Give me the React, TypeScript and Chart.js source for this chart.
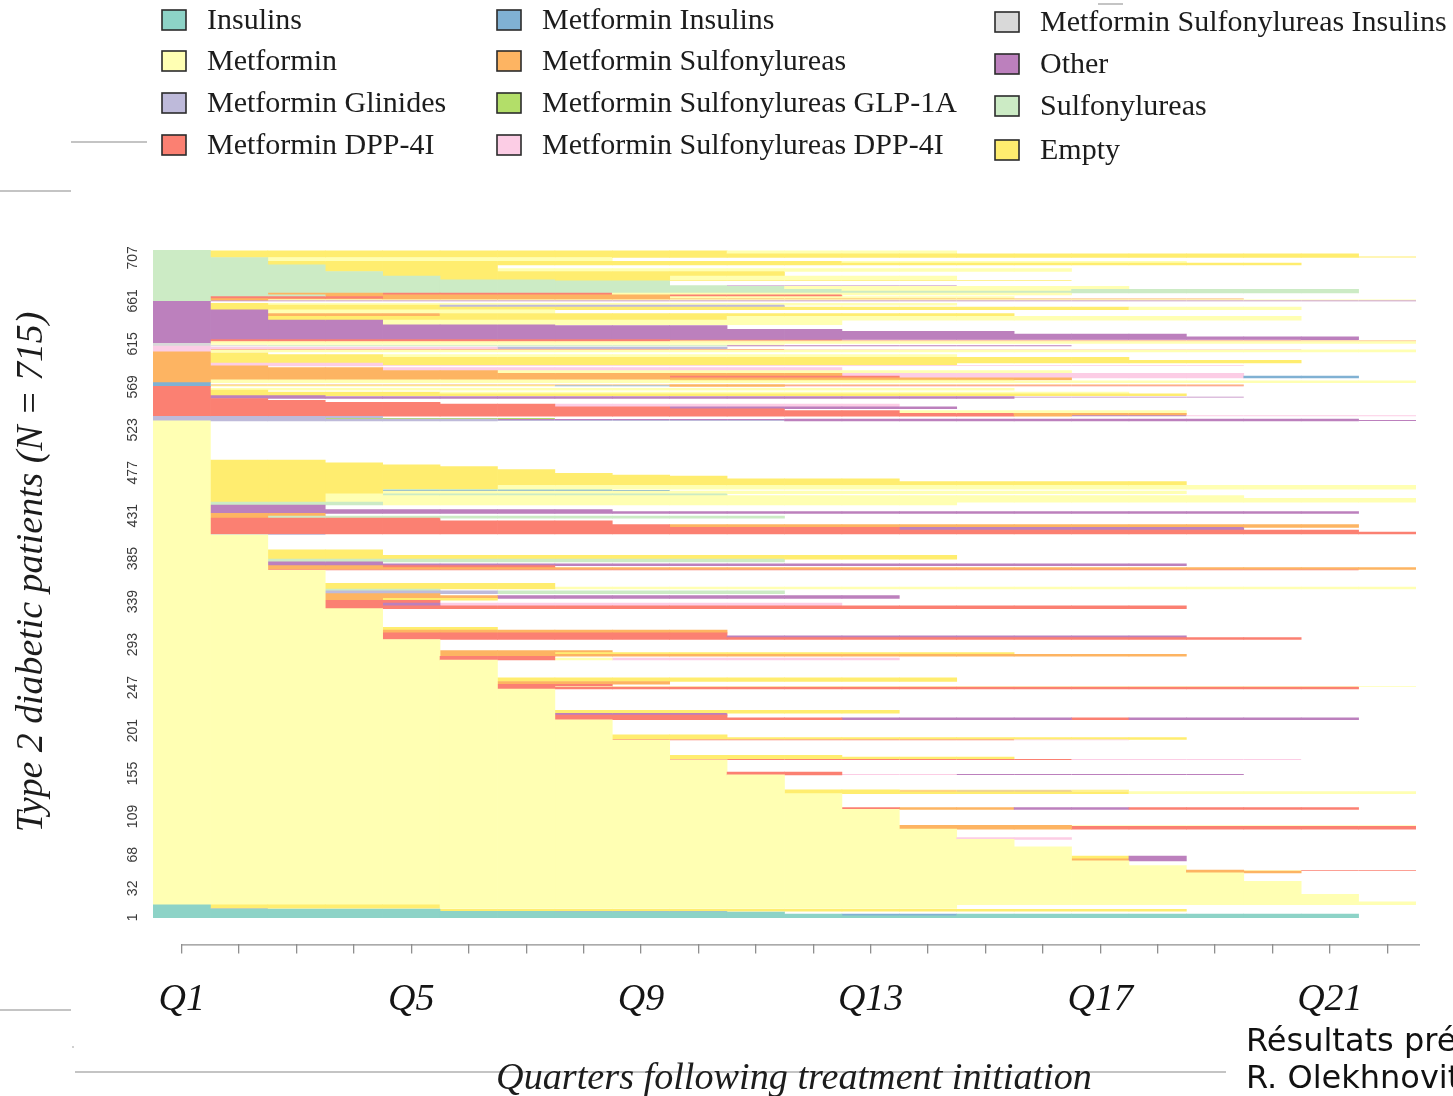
import React, { useEffect, useRef } from 'react';
import { Chart, registerables } from 'chart.js';

Chart.register(...registerables);

// ---------------- data ----------------
const QUARTERS = ['Q1','Q2','Q3','Q4','Q5','Q6','Q7','Q8','Q9','Q10','Q11','Q12','Q13','Q14','Q15','Q16','Q17','Q18','Q19','Q20','Q21','Q22'];
const X_TICK_LABELS = ['Q1','Q5','Q9','Q13','Q17','Q21'];
const Y_TICKS = [1, 32, 68, 109, 155, 201, 247, 293, 339, 385, 431, 477, 523, 569, 615, 661, 707];
const N_PATIENTS = 715;

const STATE_CODES = ['I','M','G','D','N','S','L','P','X','O','U','E'];
const STATE_LABELS = [
  'Insulins', 'Metformin', 'Metformin Glinides', 'Metformin DPP-4I',
  'Metformin Insulins', 'Metformin Sulfonylureas', 'Metformin Sulfonylureas GLP-1A', 'Metformin Sulfonylureas DPP-4I',
  'Metformin Sulfonylureas Insulins', 'Other', 'Sulfonylureas', 'Empty',
];
const STATE_COLORS = ['#8DD3C7','#FFFFB3','#BEBADA','#FB8072','#80B1D3','#FDB462','#B3DE69','#FCCDE5','#D9D9D9','#BC80BD','#CCEBC5','#FFED6F'];

// Patient groups, bottom to top: [number of patients, state sequence (run-length: state code + number of quarters)]
const START_INSULINS: [number, string][] = [
  [2, 'I21'], [2, 'I12 N2 I7'], [2, 'I11'], [1, 'I7 N3'], [2, 'I5 E13'], [1, 'I1 N1 U3'], [4, 'I1 E4 M9'],
];
const START_METFORMIN: [number, string][] = [
  [3, 'M22'], [8, 'M21'], [14, 'M20'], [9, 'M19'],
  [2, 'M18 S2'], [1, 'M18 S1 M1 D2'], [5, 'M18'],
  [5, 'M17'],
  [2, 'M16 S1 O1'], [3, 'M16 E1 O1'], [10, 'M16'],
  [8, 'M15'],
  [2, 'M14 P2'], [9, 'M14'],
  [3, 'M13 S3 D6'], [1, 'M13 S3 M6'], [17, 'M13'],
  [2, 'M12 D1 S2 O2 D4'], [15, 'M12'],
  [2, 'M11 E6 M5'], [1, 'M11 E2 D1 O2'], [1, 'M11 E6'], [16, 'M11'],
  [1, 'M10 D2 P2 O5'], [2, 'M10 D2'], [13, 'M10'],
  [1, 'M9 D7 P4'], [2, 'M9 E6'], [2, 'M9 E3'], [16, 'M9'],
  [1, 'M8 D7 P2'], [2, 'M8 E10'], [3, 'M8 E2'], [16, 'M8'],
  [2, 'M7 D5 O4 D1 O4'], [3, 'M7 D3'], [2, 'M7 O3'], [3, 'M7 E6'], [23, 'M7'],
  [2, 'M6 D15'], [1, 'M6 D1 M15'], [2, 'M6 D2'], [3, 'M6 S3'], [4, 'M6 E8'], [19, 'M6'],
  [2, 'M5 D2 M1 P5'], [2, 'M5 D2'], [2, 'M5 S13'], [2, 'M5 S2 E8'], [2, 'M5 S3'], [12, 'M5'],
  [2, 'M4 D16'], [2, 'M4 D6 O8'], [3, 'M4 D6'], [3, 'M4 S6'], [3, 'M4 E2'], [20, 'M4'],
  [3, 'M3 D15'], [3, 'M3 D1 O1 P7'], [3, 'M3 D2'], [2, 'M3 S1 E2'], [3, 'M3 S3 O7'], [2, 'M3 S2'],
  [3, 'M3 G3 U5'], [2, 'M3 U2'], [2, 'M3 E4 M15'], [4, 'M3 E4'], [14, 'M3'],
  [1, 'M2 D19'], [2, 'M2 S20'], [2, 'M2 S2 D3'], [2, 'M2 O16'], [2, 'M2 O2'], [3, 'M2 U9'],
  [4, 'M2 E12'], [6, 'M2 E2'], [16, 'M2'],
  [1, 'M1 G2'],
  [2, 'M1 D21'], [2, 'M1 D20'], [3, 'M1 D12 O6'], [3, 'M1 D8 S12'], [4, 'M1 D7'], [3, 'M1 D4'],
  [2, 'M1 S1 U9'], [3, 'M1 S2'],
  [2, 'M1 O20'], [2, 'M1 O7'], [5, 'M1 O2'],
  [3, 'M1 U3 M10'],
  [4, 'M1 E2 M19'], [3, 'M1 E2 M16'], [2, 'M1 E2 M1 U6'], [3, 'M1 E3 M14'], [1, 'M1 E3 N5'], [1, 'M1 E3 U4'],
  [4, 'M1 E5 M16'], [4, 'M1 E17'], [3, 'M1 E12'], [3, 'M1 E9'], [1, 'M1 E8'], [2, 'M1 E7'], [4, 'M1 E6'],
  [3, 'M1 E5'], [2, 'M1 E4'], [2, 'M1 E3'], [3, 'M1 E2'],
  [42, 'M1'],
];
const START_GLINIDES: [number, string][] = [
  [1, 'G11 O11'], [1, 'G6 O15'], [1, 'G3 L4'], [2, 'G4'],
];
const START_DPP4: [number, string][] = [
  [1, 'D15 S1 O2 P4'], [2, 'D15 S3'], [3, 'D13 M5'], [2, 'D11'], [2, 'D9 O5'], [3, 'D7 P6'], [2, 'D5'], [2, 'D3'], [2, 'D2'],
  [1, 'D1 O14'], [1, 'D1 O18'], [1, 'D1 O2'],
  [2, 'D1 E17'], [2, 'D1 E4 M12'], [2, 'D1 E1'],
  [2, 'D1 M14'], [2, 'D1'],
];
const START_MET_INSULINS: [number, string][] = [
  [1, 'N1 E6 N2 S2 D8'], [1, 'N1 S18'], [2, 'N1'],
];
const START_MET_SULF: [number, string][] = [
  [2, 'S1 M21'], [1, 'S1 M8 E6'],
  [2, 'S16'], [2, 'S9 D4 P6 N2'], [3, 'S12 P7'], [3, 'S6 M10'], [3, 'S4 P8'], [2, 'S2'],
  [1, 'S1 P18'], [2, 'S1 P3 E10'],
  [3, 'S1 E19'], [3, 'S1 E16'], [3, 'S1 E3 M10'], [2, 'S1 E1'],
  [1, 'S1'],
];
const START_MET_SULF_DPP4: [number, string][] = [
  [2, 'P1 M21'], [1, 'P1 D10 P9'], [2, 'P6 G4'], [1, 'P1'],
];
const START_MET_SULF_INS: [number, string][] = [
  [1, 'X2 U8 O6'], [1, 'X1 M10'], [1, 'X1'],
];
const START_OTHER: [number, string][] = [
  [2, 'O1 M21'], [1, 'O1 D8 S13'], [1, 'O1 D11 P8'],
  [3, 'O21'], [3, 'O18'], [3, 'O15'], [2, 'O12'], [4, 'O10'], [1, 'O7'], [5, 'O4 M8'], [4, 'O2 E8 M10'], [3, 'O2 S3 E10'], [4, 'O2 M5'],
  [3, 'O1 E16 M3'], [2, 'O1 E4 G6'], [2, 'O1 E1 M12'],
  [2, 'O1'],
];
const START_SULF: [number, string][] = [
  [1, 'U1 O21'], [1, 'U1 S1 M20'], [1, 'U1 S18'], [2, 'U1 D3 S5 M6'], [2, 'U3 S6 D3'], [2, 'U2 S2 D4 M8'],
  [2, 'U21'], [2, 'U12 M4 U5'], [3, 'U11 M6'], [1, 'U10 O4'], [5, 'U9'], [1, 'U7 E9'], [4, 'U5 E4 M5'], [5, 'U4 E7'],
  [3, 'U3 E3 M10'], [4, 'U3 E3'], [2, 'U2 E18'], [2, 'U2 E10 M6'], [4, 'U2 M6'],
  [1, 'U1 E21'], [3, 'U1 E20'], [3, 'U1 E9 M4'],
  [1, 'U1'],
];

// ---------------- build bars ----------------
const ALL_GROUPS = [
  ...START_INSULINS, ...START_METFORMIN, ...START_GLINIDES, ...START_DPP4, ...START_MET_INSULINS,
  ...START_MET_SULF, ...START_MET_SULF_DPP4, ...START_MET_SULF_INS, ...START_OTHER, ...START_SULF,
];

function decodeRuns(rle: string): string {
  return rle.trim().split(/\s+/).map((tok) => tok[0].repeat(parseInt(tok.slice(1), 10))).join('');
}

const COLOR_BY_CODE: Record<string, string> = {};
STATE_CODES.forEach((c, i) => { COLOR_BY_CODE[c] = STATE_COLORS[i]; });

type Run = { code: string; start: number; end: number };
const runsPerQuarter: Run[][] = QUARTERS.map(() => []);
let cumulative = 0;
for (const [n, rle] of ALL_GROUPS) {
  const seq = decodeRuns(rle);
  for (let q = 0; q < QUARTERS.length; q++) {
    const c = seq[q];
    if (!c || c === '.') continue;
    const runs = runsPerQuarter[q];
    const last = runs[runs.length - 1];
    if (last && last.code === c && last.end === cumulative) last.end = cumulative + n;
    else runs.push({ code: c, start: cumulative, end: cumulative + n });
  }
  cumulative += n;
}
const maxRuns = Math.max(...runsPerQuarter.map((r) => r.length));

const datasets = Array.from({ length: maxRuns }, (_, i) => ({
  label: 'layer ' + i,
  data: runsPerQuarter.map((r) => (r[i] ? [r[i].start + 0.5, r[i].end + 0.5] : null)),
  backgroundColor: runsPerQuarter.map((r) => (r[i] ? COLOR_BY_CODE[r[i].code] : 'rgba(0,0,0,0)')),
  borderWidth: 0,
  barPercentage: 1,
  categoryPercentage: 1,
  grouped: false,
  inflateAmount: (ctx: any) => {
    const raw = ctx.raw;
    return raw && Math.abs(raw[1] - raw[0]) >= 2 ? 0.33 : 0;
  },
}));

// ---------------- decorations ----------------
const SERIF = '"Liberation Serif", "Times New Roman", serif';
const SANS = '"DejaVu Sans", sans-serif';

function fitFont(ctx: CanvasRenderingContext2D, text: string, width: number, style: string, family: string) {
  ctx.font = `${style} 40px ${family}`;
  const w = ctx.measureText(text).width;
  return `${style} ${(40 * width) / w}px ${family}`;
}

const decorations = {
  id: 'decorations',
  afterDraw(chart: any) {
    const ctx: CanvasRenderingContext2D = chart.ctx;
    const xs = chart.scales.x;
    const ys = chart.scales.y;
    const area = chart.chartArea;
    ctx.save();

    // slide rules
    ctx.strokeStyle = '#c4c4c4';
    ctx.lineWidth = 2;
    const rules = [[71, 142, 147, 142], [0, 191, 71, 191], [0, 1010, 71, 1010], [75, 1072, 1226, 1072], [1098, 4, 1123, 4]];
    rules.forEach(([x1, y1, x2, y2]) => { ctx.beginPath(); ctx.moveTo(x1, y1); ctx.lineTo(x2, y2); ctx.stroke(); });
    ctx.fillStyle = '#d0d0d0';
    ctx.fillRect(72, 1046, 2, 2);

    // legend (3 columns)
    const colX = [162, 497, 995];
    const rowY = [[20, 61, 103, 145], [20, 61, 103, 145], [22, 64, 106, 150]];
    ctx.font = `30px ${SERIF}`;
    ctx.textBaseline = 'middle';
    ctx.textAlign = 'left';
    STATE_LABELS.forEach((label, i) => {
      const col = Math.floor(i / 4);
      const row = i % 4;
      const bx = colX[col];
      const by = rowY[col][row];
      ctx.fillStyle = STATE_COLORS[i];
      ctx.fillRect(bx, by - 10, 24, 20);
      ctx.strokeStyle = '#2b2b2b';
      ctx.lineWidth = 1.6;
      ctx.strokeRect(bx, by - 10, 24, 20);
      ctx.fillStyle = '#1c1c1c';
      ctx.fillText(label, bx + 45, by + 1);
    });

    // y tick labels (rotated)
    ctx.fillStyle = '#3a3a3a';
    ctx.font = `14px "Liberation Sans", Arial, sans-serif`;
    ctx.textAlign = 'center';
    ctx.textBaseline = 'middle';
    Y_TICKS.forEach((v) => {
      const py = ys.getPixelForValue(v);
      ctx.save();
      ctx.translate(133, py);
      ctx.rotate(-Math.PI / 2);
      ctx.fillText(String(v), 0, 0);
      ctx.restore();
    });

    // y title
    const yTitle = `Type 2 diabetic patients (N = ${N_PATIENTS})`;
    ctx.font = fitFont(ctx, yTitle, 521, 'italic', SERIF);
    ctx.fillStyle = '#1c1c1c';
    ctx.save();
    ctx.translate(42, 572);
    ctx.rotate(-Math.PI / 2);
    ctx.textAlign = 'center';
    ctx.textBaseline = 'alphabetic';
    ctx.fillText(yTitle, 0, 0);
    ctx.restore();

    // x axis line
    ctx.strokeStyle = '#8f8f8f';
    ctx.lineWidth = 1.3;
    ctx.beginPath();
    ctx.moveTo(xs.getPixelForValue(0), area.bottom + 0.5);
    ctx.lineTo(area.right + 4, area.bottom + 0.5);
    ctx.stroke();

    // x title
    const xTitle = 'Quarters following treatment initiation';
    ctx.font = fitFont(ctx, xTitle, 596, 'italic', SERIF);
    ctx.fillStyle = '#1c1c1c';
    ctx.textAlign = 'center';
    ctx.textBaseline = 'alphabetic';
    ctx.fillText(xTitle, 794, 1089);

    // footnote
    ctx.font = `32px ${SANS}`;
    ctx.textAlign = 'left';
    ctx.textBaseline = 'middle';
    ctx.fillStyle = '#111';
    ctx.fillText('Résultats préliminaires', 1246, 1043);
    ctx.fillText('R. Olekhnovitch', 1246, 1080);

    ctx.restore();
  },
};

export default function App() {
  const ref = useRef<HTMLCanvasElement>(null);
  useEffect(() => {
    document.body.style.margin = '0';
    const chart = new Chart(ref.current as HTMLCanvasElement, {
      type: 'bar',
      data: { labels: QUARTERS, datasets: datasets as any },
      options: {
        responsive: false,
        animation: false,
        devicePixelRatio: 1,
        layout: { padding: { left: 153, right: 37, top: 250, bottom: 49 } },
        plugins: { legend: { display: false }, tooltip: { enabled: false } },
        scales: {
          x: {
            type: 'category',
            offset: true,
            border: { display: false },
            grid: { display: true, drawOnChartArea: false, drawTicks: true, tickLength: 9, offset: false, color: '#8f8f8f', lineWidth: 1.3 },
            ticks: {
              autoSkip: false,
              maxRotation: 0,
              minRotation: 0,
              padding: 24,
              color: '#151515',
              font: { family: SERIF, style: 'italic', size: 38 },
              callback: (_v: any, i: number) => (X_TICK_LABELS.includes(QUARTERS[i]) ? QUARTERS[i] : ''),
            },
          },
          y: { type: 'linear', display: false, min: -28, max: N_PATIENTS + 0.5 },
        },
      },
      plugins: [decorations],
    } as any);
    return () => chart.destroy();
  }, []);
  return (
    <div style={{ position: 'absolute', left: 0, top: 0, width: 1453, height: 1096, background: '#fff', overflow: 'hidden' }}>
      <canvas ref={ref} width={1453} height={1096} style={{ display: 'block', width: 1453, height: 1096 }} />
    </div>
  );
}
